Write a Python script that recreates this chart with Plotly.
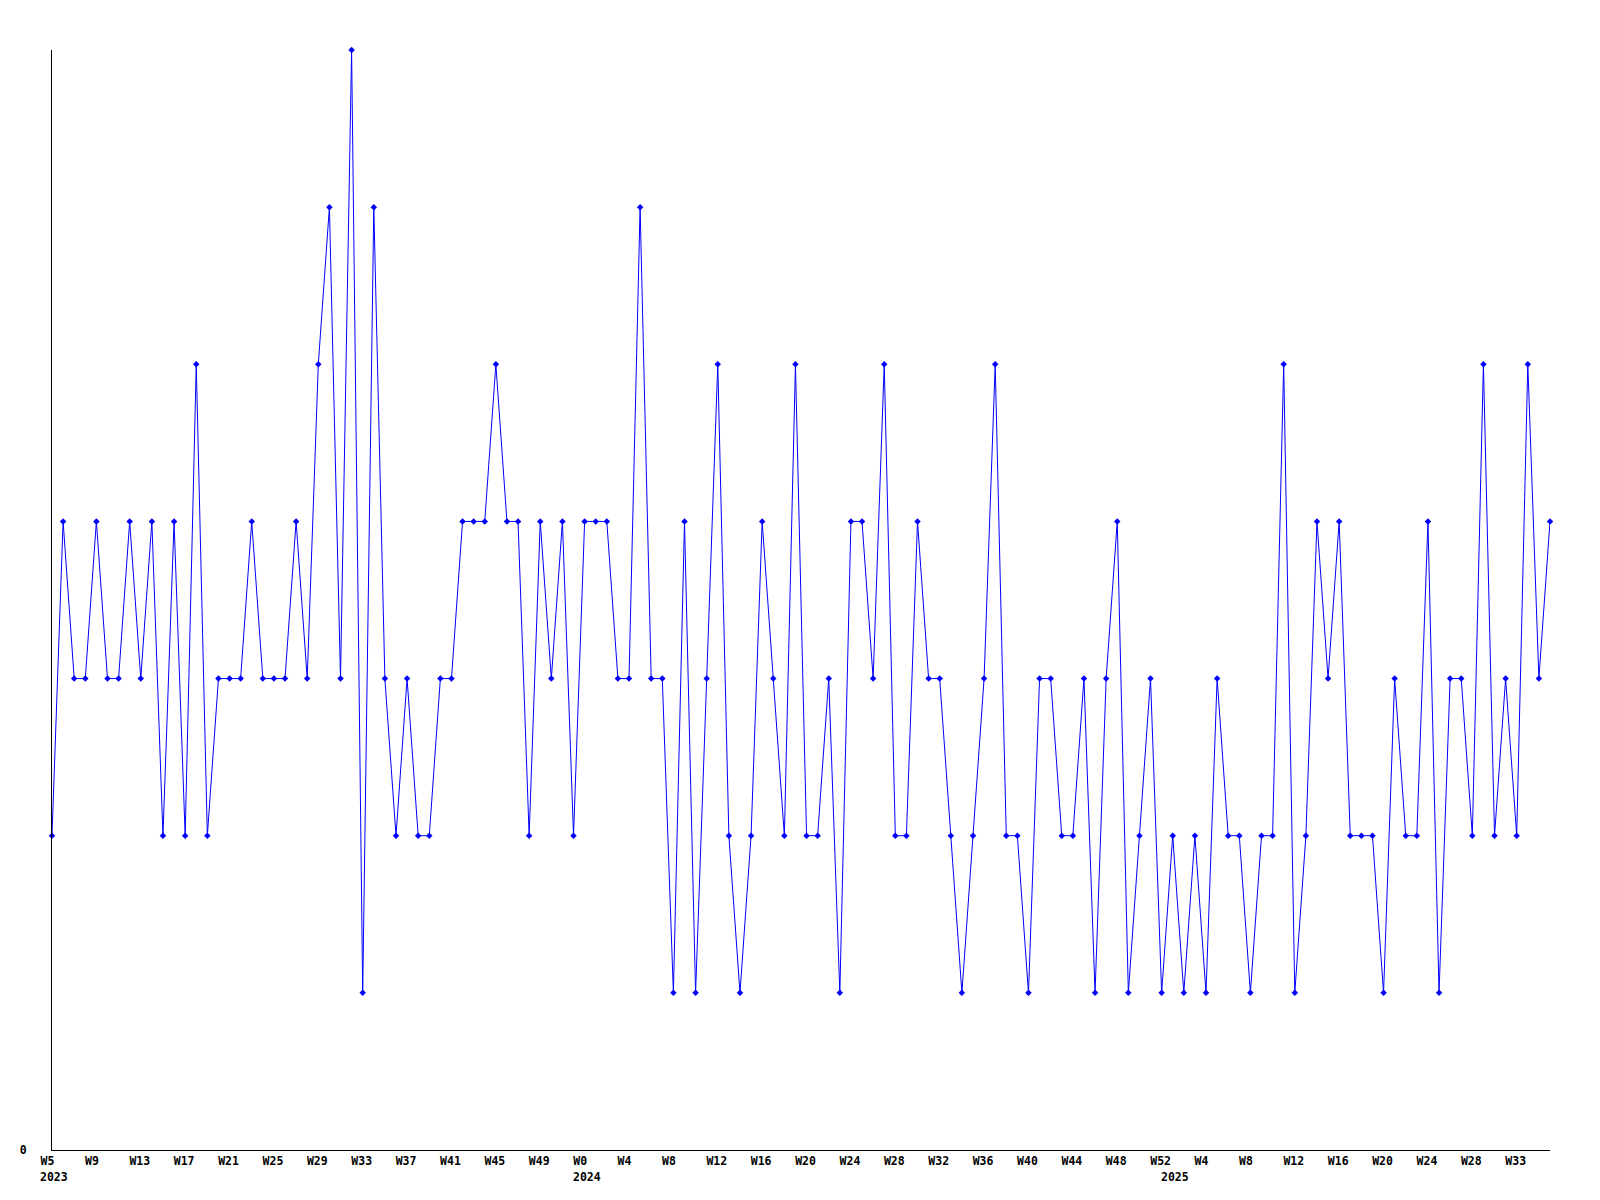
import plotly.graph_objects as go

# Weekly values, 2023-W5 .. 2025-W36 (one value per week)
values = [
    2, 4, 3, 3, 4, 3, 3, 4, 3, 4, 2, 4, 2, 5, 2, 3, 3, 3, 4, 3,
    3, 3, 4, 3, 5, 6, 3, 7, 1, 6, 3, 2, 3, 2, 2, 3, 3, 4, 4, 4,
    5, 4, 4, 2, 4, 3, 4, 2, 4, 4, 4, 3, 3, 6, 3, 3, 1, 4, 1, 3,
    5, 2, 1, 2, 4, 3, 2, 5, 2, 2, 3, 1, 4, 4, 3, 5, 2, 2, 4, 3,
    3, 2, 1, 2, 3, 5, 2, 2, 1, 3, 3, 2, 2, 3, 1, 3, 4, 1, 2, 3,
    1, 2, 1, 2, 1, 3, 2, 2, 1, 2, 2, 5, 1, 2, 4, 3, 4, 2, 2, 2,
    1, 3, 2, 2, 4, 1, 3, 3, 2, 5, 2, 3, 2, 5, 3, 4,
]

# x tick labels, one every 4 weeks
tick_labels = [
    "W5", "W9", "W13", "W17", "W21", "W25", "W29", "W33", "W37", "W41", "W45", "W49",
    "W0", "W4", "W8", "W12", "W16", "W20", "W24", "W28", "W32", "W36", "W40", "W44", "W48", "W52",
    "W4", "W8", "W12", "W16", "W20", "W24", "W28", "W33",
]
tick_step = 4

# year labels and the week index where each year begins
year_labels = ["2023", "2024", "2025"]
year_start_index = [0, 48, 101]

x = list(range(len(values)))
tickvals = [i * tick_step for i in range(len(tick_labels))]
ticktext = [t + "\u00a0" * (3 - len(t)) for t in tick_labels]

font_family = "DejaVu Sans Mono"

fig = go.Figure()
fig.add_trace(go.Scatter(
    x=x, y=values, mode="lines+markers",
    line=dict(color="#0000ff", width=1),
    marker=dict(symbol="diamond", size=5, color="#0000ff"),
    showlegend=False, hoverinfo="skip", cliponaxis=False,
))

for lab, idx in zip(year_labels, year_start_index):
    fig.add_annotation(
        x=idx, xref="x", y=0, yref="paper", text=lab, showarrow=False,
        xanchor="left", yanchor="top", xshift=-14, yshift=-18,
        font=dict(family=font_family, size=11.5, color="black", weight="bold"),
    )

fig.update_layout(
    width=1592, height=1192,
    margin=dict(l=42, r=50, t=42, b=50),
    paper_bgcolor="white", plot_bgcolor="white",
    font=dict(family=font_family, size=11.5, color="black", weight="bold"),
)
fig.update_xaxes(
    range=[0, len(values) - 1], showgrid=False, zeroline=False,
    showline=True, linecolor="black", linewidth=1,
    ticks="", tickvals=tickvals, ticktext=ticktext,
    ticklabelshift=-1, ticklabelstandoff=0,
)
fig.update_yaxes(
    range=[0, 7], showgrid=False, zeroline=False,
    showline=True, linecolor="black", linewidth=1,
    ticks="", tickvals=[0], ticktext=["0"], ticklabelstandoff=22,
)

fig.write_html("out.html")
